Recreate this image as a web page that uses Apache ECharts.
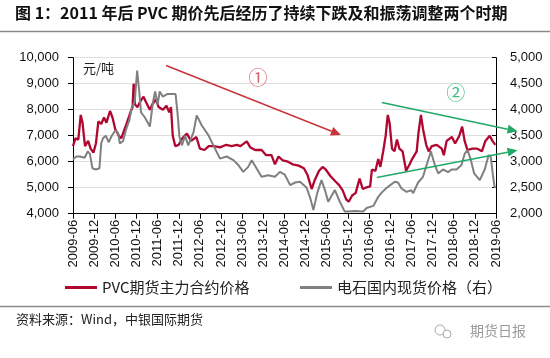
<!DOCTYPE html>
<html><head><meta charset="utf-8">
<script src="https://cdn.jsdelivr.net/npm/echarts@6/dist/echarts.min.js"></script>
<style>html,body{margin:0;padding:0;background:#fff}#c{width:550px;height:358px}</style>
</head><body><div id="c"></div>
<script>
// months since 2009-06
const pvcM = [0,0.7,1.5,2.2,2.7,3.4,4.3,5,5.8,6.5,7.2,8,8.8,9.5,10.5,11.2,12,13,13.7,14.5,15.3,16.3,16.9,17.2,17.6,18.3,19,20,20.7,21.8,22.5,23.5,24.3,25.5,26.5,27.3,27.8,28.3,29,30,31,32.3,33.5,35,36,37.3,38.5,40,41.7,43.5,45,46.5,47.5,49.3,50.3,51.7,53.5,54.8,56.3,57.3,58.3,59.5,61,62.3,64,65.5,66.5,67.7,68.6,69.8,70.8,71.7,73,74.4,75.5,76.5,77.5,78.2,79.2,80.2,81.3,82.2,83,84.3,84.8,85.8,86.6,87.2,88,88.7,89.3,89.8,90.5,91.2,91.9,92.6,93.5,94.5,95.5,96.2,97.5,98,98.7,99.3,100.2,100.9,101.8,103.2,104.6,105.2,106,107.5,108.4,109.6,110.4,111.1,111.9,113.3,114.7,116,117,118.2,119,119.8];
const pvcV = [6600,6900,6850,7800,7500,6600,6800,6500,6350,6700,7550,7450,7700,7500,7950,7700,7250,7000,6900,7200,7500,7900,8100,9000,8200,8100,8300,8500,8300,8000,8200,8400,8100,8000,8150,7900,8100,7000,6600,6650,6900,7080,6800,6950,6500,6450,6600,6600,6550,6650,6600,6650,6600,6780,6550,6450,6450,6250,6250,5900,6200,6050,6000,5900,5850,5750,5500,4950,5300,5650,5800,5700,5450,5250,5100,4900,4550,4460,4700,4800,5350,4950,5000,5050,5700,5650,6100,5800,6400,7000,7800,7500,6500,6400,6850,6500,6400,5650,5900,6100,6400,7100,7800,7250,6650,6400,6600,6650,6500,6250,6800,6950,6700,7000,7350,6800,6450,6500,6500,6400,6800,7000,6800,6650];
const cacM = [0,1,2,3.3,4.2,4.8,5.5,6.5,7.5,8,8.5,9.3,10.1,11,12,12.8,13.3,14.2,15.2,16,16.7,17.5,18.2,18.8,19.3,20.4,21.8,22.7,23.3,24,24.6,25.5,26.7,28,29.1,29.7,30.2,30.9,31.8,32.7,34.2,35.1,36.5,38.4,40.3,41.7,43.6,45.5,46.9,48.3,49.7,50.7,52.1,53.5,55.4,57.3,58.7,60.1,61.6,63,64.4,66.3,67.3,68.2,69.3,70.5,71.5,72.4,74.3,75.7,77.1,78,80,82.3,83.3,85.2,86.6,87.5,89,90,91.3,92.2,93.2,94.6,96,96.5,97.9,99.3,100.3,101.2,101.5,102.6,103.6,105,106.4,107.4,108.8,110.2,111.1,111.9,112.8,113.8,115.4,116.8,117.9,118.5,119.1,119.6,120];
const cacV = [3050,3100,3100,3075,3200,3150,2875,2850,2875,3350,3450,3500,3375,3500,3600,3550,3350,3400,3650,3800,4050,4150,4750,4350,3950,3850,3675,4150,4350,4100,4350,4250,4300,4300,4300,3900,3475,3315,3500,3315,3570,3890,3700,3510,3250,3060,3100,3030,2935,2805,2900,3030,2870,2710,2740,2710,2805,2750,2550,2600,2615,2500,2300,2070,2400,2645,2450,2230,2455,2230,2040,2040,2050,2040,2110,2150,2325,2400,2500,2550,2615,2600,2485,2420,2450,2395,2600,2710,2935,3125,3200,2950,2775,2850,2800,2850,2850,2935,3150,3225,3050,2775,2645,2850,3125,3100,2750,2515,2500];
const seriesNames = ['PVC期货主力合约价格','电石国内现货价格（右）'];
// annotation anchors [month, left-axis value]
const arrow1 = [[26.4,9700],[76,7030]];
const arrow2a = [[87.6,8280],[126.1,7170]];
const arrow2b = [[86.2,5390],[126.1,6440]];
const label1 = [52.5,9240];
const label2 = [108.6,8660];

function monthLabel(m){
  const t = 5 + Math.round(m);
  const y = 2009 + Math.floor(t/12);
  const mo = t%12 + 1;
  return y + '-' + (mo<10?'0':'') + mo;
}
const fmt = v => v.toLocaleString('en-US');
const chart = echarts.init(document.getElementById('c'));
const RED = '#b0062f', GRAY = '#808080';
chart.setOption({
  animation:false,
  textStyle:{fontFamily:'Arial, Liberation Sans, sans-serif'},
  grid:{left:73,right:54,top:57.7,bottom:144.3},
  legend:[
    {data:[seriesNames[0]],left:60,top:275,itemWidth:32,itemHeight:3,icon:'rect',itemGap:6,
     textStyle:{fontSize:15,color:'#222',fontFamily:'Noto Sans CJK SC'}},
    {data:[seriesNames[1]],left:295,top:275,itemWidth:32,itemHeight:3,icon:'rect',
     textStyle:{fontSize:15,color:'#222',fontFamily:'Noto Sans CJK SC'}}
  ],
  xAxis:{type:'value',min:0,max:120,interval:6,
    axisLine:{show:true,lineStyle:{color:'#000',width:1}},
    axisTick:{show:true,length:5,lineStyle:{color:'#000'}},
    splitLine:{show:false},
    axisLabel:{rotate:90,margin:6,fontSize:13,color:'#111',formatter:monthLabel}},
  yAxis:[
    {type:'value',min:4000,max:10000,interval:1000,
     axisLine:{show:true,lineStyle:{color:'#000'}},
     axisTick:{show:true,length:5,lineStyle:{color:'#000'}},
     splitLine:{show:true,lineStyle:{color:'#dedede',width:1}},
     axisLabel:{margin:14,fontSize:13,color:'#111',formatter:fmt}},
    {type:'value',min:2000,max:5000,interval:500,position:'right',
     axisLine:{show:true,lineStyle:{color:'#000'}},
     axisTick:{show:true,inside:true,length:4,lineStyle:{color:'#000'}},
     splitLine:{show:false},
     axisLabel:{margin:14,fontSize:13,color:'#111',formatter:fmt}}
  ],
  series:[
    {name:seriesNames[0],type:'line',yAxisIndex:0,showSymbol:false,symbol:'none',
     lineStyle:{color:RED,width:2.3},itemStyle:{color:RED},
     data:pvcM.map((m,i)=>[m,pvcV[i]])},
    {name:seriesNames[1],type:'line',yAxisIndex:1,showSymbol:false,symbol:'none',
     lineStyle:{color:GRAY,width:2},itemStyle:{color:GRAY},
     data:cacM.map((m,i)=>[m,cacV[i]])}
  ],
  graphic:[
    {type:'text',left:15,top:5,style:{text:'图 1：2011 年后 PVC 期价先后经历了持续下跌及和振荡调整两个时期',fontSize:16,fontWeight:'bold',fill:'#111',fontFamily:'Noto Sans CJK SC'}},
    {type:'line',shape:{x1:0,y1:31.5,x2:550,y2:31.5},style:{stroke:'#8a8a8a',lineWidth:1.5}},
    {type:'line',shape:{x1:0,y1:306.5,x2:550,y2:306.5},style:{stroke:'#8a8a8a',lineWidth:1.5}},
    {type:'text',left:83,top:62,style:{text:'元/吨',fontSize:13,fill:'#222',fontFamily:'Noto Sans CJK SC'}},
    {type:'text',left:16,top:313,style:{text:'资料来源：Wind，中银国际期货',fontSize:13,fill:'#222',fontFamily:'Noto Sans CJK SC'}},
    {type:'text',left:470,top:324,style:{text:'期货日报',fontSize:14,fill:'#9a9a9a',fontFamily:'Noto Sans CJK SC'}},
    {type:'circle',shape:{cx:440,cy:330,r:5},style:{fill:'none',stroke:'#aaa',lineWidth:1}},
    {type:'circle',shape:{cx:447,cy:334,r:4},style:{fill:'#fff',stroke:'#aaa',lineWidth:1}}
  ]
});
function px(p){return chart.convertToPixel({xAxisIndex:0,yAxisIndex:0},p);}
function arrow(pts,color){
  const a=px(pts[0]), b=px(pts[1]);
  const dx=b[0]-a[0], dy=b[1]-a[1], L=Math.hypot(dx,dy), ux=dx/L, uy=dy/L;
  const hl=10, hw=4.5;
  const bx=b[0]-ux*hl, by=b[1]-uy*hl;
  return [
    {type:'line',z:100,shape:{x1:a[0],y1:a[1],x2:bx,y2:by},style:{stroke:color,lineWidth:1.5}},
    {type:'polygon',z:100,shape:{points:[[b[0],b[1]],[bx-uy*hw,by+ux*hw],[bx+uy*hw,by-ux*hw]]},style:{fill:color}}
  ];
}
const l1=px(label1), l2=px(label2);
const extra=[].concat(arrow(arrow1,'#c8343a'),arrow(arrow2a,'#22a866'),arrow(arrow2b,'#22a866'),
 [{type:'text',z:100,x:l1[0],y:l1[1],style:{text:'①',fontSize:19,fill:'#d5656b',align:'center',verticalAlign:'middle',fontFamily:'Noto Sans CJK SC'}},
  {type:'text',z:100,x:l2[0],y:l2[1],style:{text:'②',fontSize:19,fill:'#3fbb7e',align:'center',verticalAlign:'middle',fontFamily:'Noto Sans CJK SC'}}]);
const opt=chart.getOption();
chart.setOption({graphic:opt.graphic[0].elements.concat(extra)},{replaceMerge:['graphic']});
</script></body></html>
